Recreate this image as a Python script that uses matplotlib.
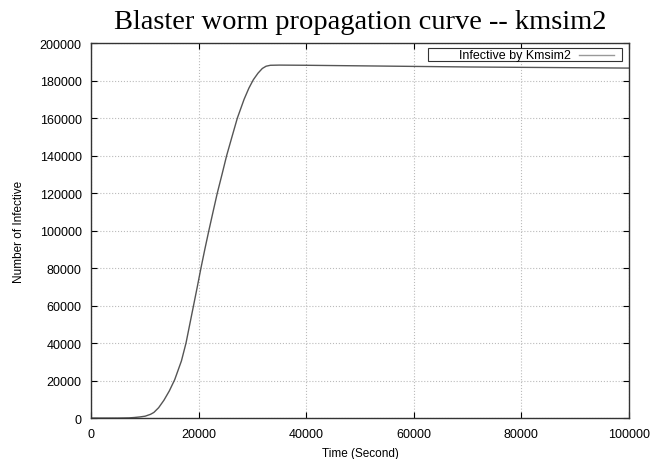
import matplotlib.pyplot as plt
from matplotlib.patches import Rectangle
from matplotlib.lines import Line2D

# values
time_s = [0, 5000, 7000, 8000, 9000, 10000, 11000, 11620, 12500, 13490,
          14500, 15500, 16750, 17600, 18300, 19000, 19700, 20380, 21100,
          21850, 22630, 23420, 24300, 25160, 26150, 27150, 28400, 29300,
          30130, 31000, 31800, 32500, 33300, 35000, 40000, 50000, 60000,
          70000, 80000, 90000, 100000]
infective = [0, 0, 100, 300, 600, 1000, 2000, 3000, 5500, 9500,
             14500, 20500, 30500, 40000, 50000, 60000, 70000, 80000, 90000,
             100000, 110000, 120000, 130000, 140000, 150000, 160000, 170000, 176000,
             180500, 184000, 186500, 187700, 188200, 188300, 188200, 187900, 187600,
             187300, 187100, 186900, 186700]

x_ticks = [0, 20000, 40000, 60000, 80000, 100000]
y_ticks = list(range(0, 200001, 20000))

plt.rcParams['font.family'] = ['Liberation Sans', 'DejaVu Sans']

fig = plt.figure(figsize=(6.53, 4.60), dpi=100)
ax = fig.add_axes([0.140, 0.089, 0.823, 0.815])

line, = ax.plot(time_s, infective, color='#555555', linewidth=1.0, label='Infective by Kmsim2')

ax.set_xlim(0, 100000)
ax.set_ylim(0, 200000)
ax.set_xticks(x_ticks)
ax.set_yticks(y_ticks)
ax.tick_params(direction='in', top=True, right=True, labelsize=9, length=4, width=0.8)
ax.tick_params(axis='y', pad=7)
ax.tick_params(axis='x', pad=7)
ax.grid(True, linestyle=':', color='#bbbbbb', linewidth=0.8)
for s in ax.spines.values():
    s.set_linewidth(1.0)
    s.set_color('#333333')

ax.set_xlabel('Time (Second)', fontsize=8.5, labelpad=5)
ax.set_ylabel('Number of Infective', fontsize=8.5, labelpad=10.5)
ax.set_title('Blaster worm propagation curve -- kmsim2', fontsize=20.5,
             family=['Liberation Serif', 'DejaVu Serif'], pad=11)

# gnuplot style key: wide box, label right-aligned before the sample line
ax.add_patch(Rectangle((0.626, 0.952), 0.361, 0.034, transform=ax.transAxes,
                       facecolor='white', edgecolor='#333333', linewidth=0.8, zorder=5))
ax.text(0.892, 0.969, line.get_label(), transform=ax.transAxes, ha='right', va='center',
        fontsize=9, zorder=6)
ax.add_line(Line2D([0.908, 0.972], [0.969, 0.969], transform=ax.transAxes,
                   color='#999999', linewidth=1.0, zorder=6))

fig.savefig('out.png', dpi=100)
